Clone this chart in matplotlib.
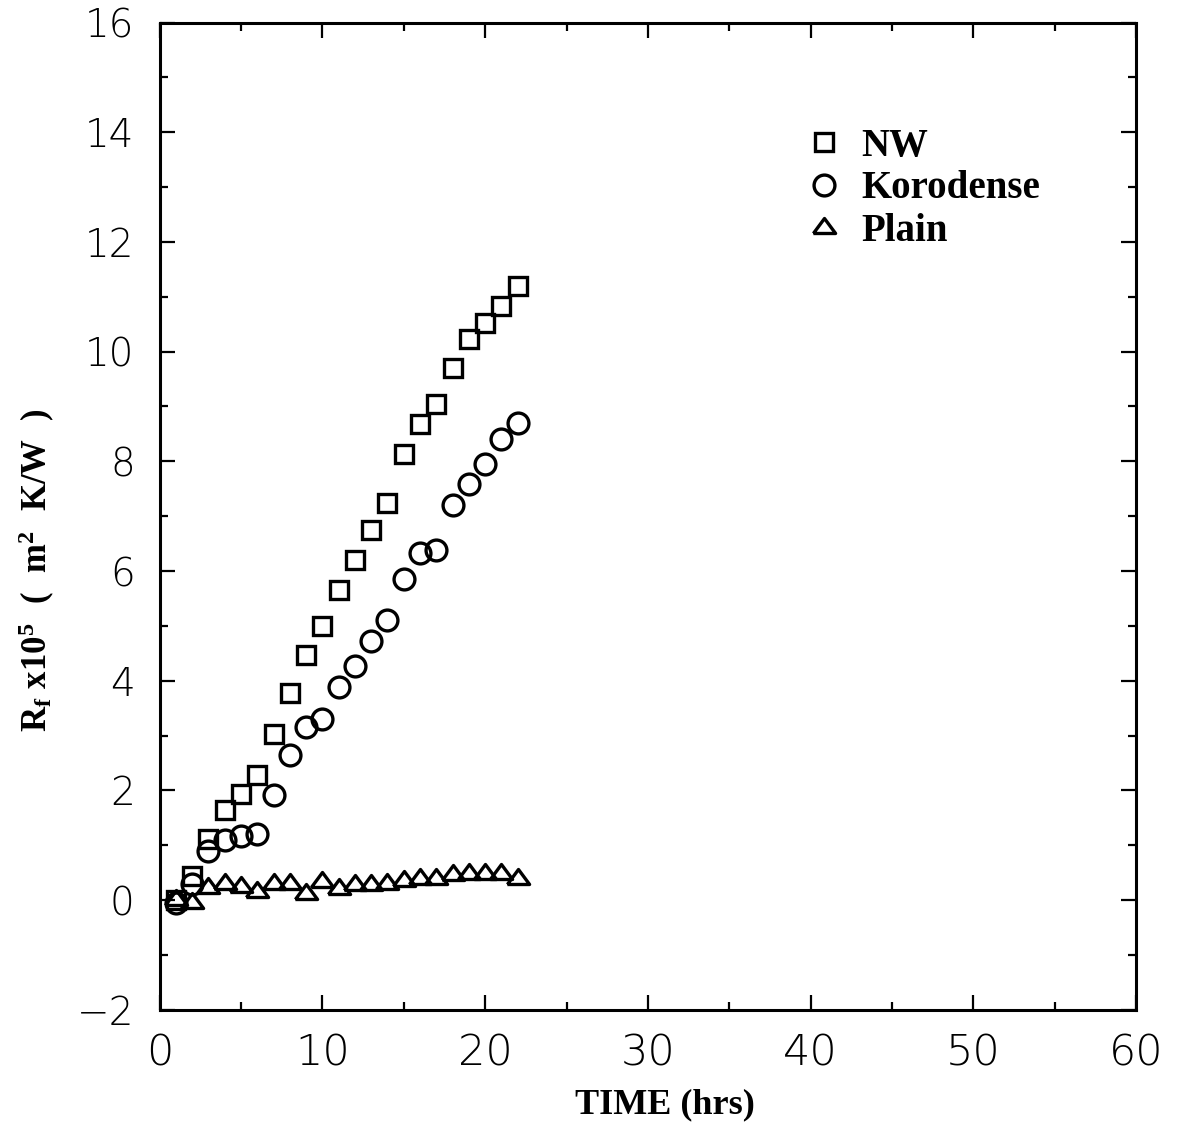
import matplotlib.pyplot as plt
from matplotlib.font_manager import FontProperties
from matplotlib.ticker import MultipleLocator

# data (time in hrs, Rf x 1e5 in m2K/W)
time_nw = [1, 2, 3, 4, 5, 6, 7, 8, 9, 10, 11, 12, 13, 14, 15, 16, 17, 18, 19, 20, 21, 22]
rf_nw = [0.0, 0.44, 1.12, 1.65, 1.94, 2.28, 3.03, 3.78, 4.47, 4.99, 5.65, 6.2,
         6.75, 7.24, 8.14, 8.68, 9.04, 9.71, 10.23, 10.52, 10.84, 11.2]

time_kor = [1, 2, 3, 4, 5, 6, 7, 8, 9, 10, 11, 12, 13, 14, 15, 16, 17, 18, 19, 20, 21, 22]
rf_kor = [-0.05, 0.3, 0.89, 1.1, 1.16, 1.2, 1.92, 2.65, 3.16, 3.3, 3.88, 4.27,
          4.72, 5.1, 5.85, 6.33, 6.38, 7.2, 7.59, 7.95, 8.4, 8.7]

time_plain = [1, 2, 3, 4, 5, 6, 7, 8, 9, 10, 11, 12, 13, 14, 15, 16, 17, 18, 19, 20, 21, 22]
rf_plain = [0.0, -0.05, 0.22, 0.29, 0.24, 0.15, 0.3, 0.3, 0.12, 0.33, 0.2, 0.27,
            0.28, 0.3, 0.35, 0.38, 0.38, 0.45, 0.48, 0.48, 0.48, 0.38]

labels = ["NW", "Korodense", "Plain"]

plt.rcParams["mathtext.fontset"] = "custom"
plt.rcParams["mathtext.rm"] = "Liberation Serif:bold"
plt.rcParams["mathtext.it"] = "Liberation Serif:bold"
plt.rcParams["mathtext.bf"] = "Liberation Serif:bold"

fig = plt.figure(figsize=(11.91, 11.27), dpi=100)
ax = fig.add_axes([0.134, 0.104, 0.820, 0.876])

# wide, flat triangle like the scanned marker
tri = [(-1, -0.45), (1, -0.45), (0, 0.9), (-1, -0.45)]
kw = dict(linestyle="none", markerfacecolor="none", markeredgecolor="black",
          markeredgewidth=2.4)
ax.plot(time_nw, rf_nw, marker="s", markersize=12.5, label=labels[0], **kw)
ax.plot(time_kor, rf_kor, marker="o", markersize=15, label=labels[1], **kw)
ax.plot(time_plain, rf_plain, marker=tri, markersize=16, label=labels[2], **kw)

ax.set_xlim(0, 60)
ax.set_ylim(-2, 16)
ax.xaxis.set_major_locator(MultipleLocator(10))
ax.xaxis.set_minor_locator(MultipleLocator(5))
ax.yaxis.set_major_locator(MultipleLocator(2))
ax.yaxis.set_minor_locator(MultipleLocator(1))
ax.tick_params(which="both", direction="in", top=True, right=True, width=1.6)
ax.tick_params(which="major", length=11)
ax.tick_params(which="minor", length=5.5)
ax.tick_params(axis="y", which="major", pad=18)
ax.tick_params(axis="x", which="major", pad=16)
for sp in ax.spines.values():
    sp.set_linewidth(2.2)

for lab in ax.get_xticklabels():
    lab.set_fontsize(31)
    lab.set_fontweight("light")
for lab in ax.get_yticklabels():
    lab.set_fontsize(28)
    lab.set_fontweight("light")

ax.set_xlabel("TIME (hrs)", fontsize=26, fontfamily="Liberation Serif", fontweight="bold")
ax.xaxis.set_label_coords(0.517, -0.080)
ax.set_ylabel(r"$\mathrm{R_f\ x10^5\ \ (\ \ m^2\ \ K/W\ \ )}$", fontsize=25)
ax.yaxis.set_label_coords(-0.105, 0.445)

ax.legend(loc="upper left", bbox_to_anchor=(0.625, 0.929), frameon=False,
          handlelength=1.0, handletextpad=0.45, labelspacing=0.15, markerscale=1.0,
          prop=FontProperties(family="Liberation Serif", weight="bold", size=28))

fig.savefig("out.png", dpi=100)
